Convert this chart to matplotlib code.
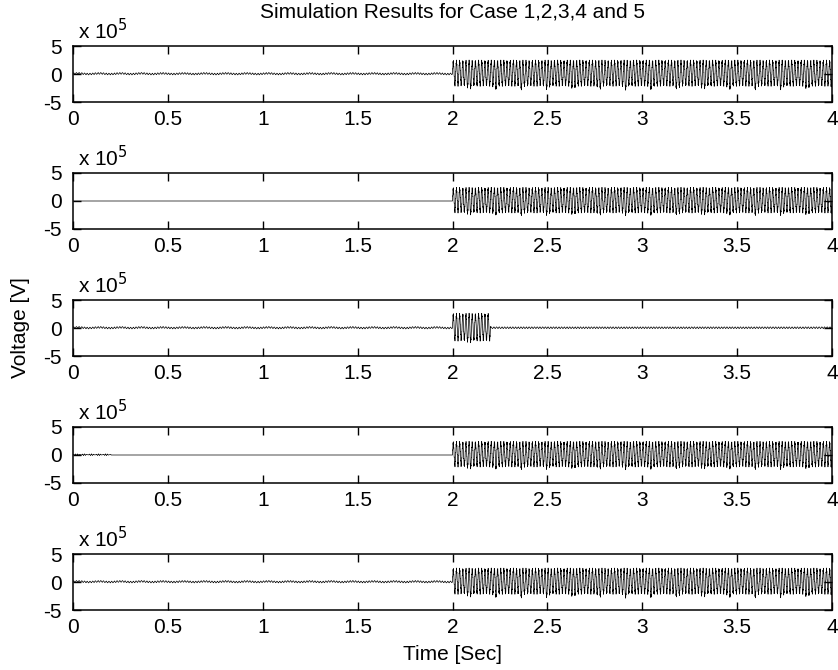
import numpy as np
import matplotlib
matplotlib.use("Agg")
import matplotlib.pyplot as plt

plt.rcParams['font.family'] = ['Liberation Sans', 'DejaVu Sans']

# ---- data (voltages in units of 1e5 V) ----
cases = [1, 2, 3, 4, 5]
fault_on = [2.0, 2.0, 2.0, 2.0, 2.0]        # s, start of large oscillation
fault_off = [4.0, 4.0, 2.2, 4.0, 4.0]       # s, end of large oscillation
pre_ripple = [0.15, 0.0, 0.15, 0.0, 0.15]   # pre-fault ripple amplitude
start_transient_end = [0.0, 0.0, 0.0, 0.2, 0.0]  # s, small start-up transient
post_amp = [2.05, 2.0, 2.2, 2.0, 2.05]      # main oscillation amplitude
post_hf = [0.3, 0.3, 0.3, 0.3, 0.3]         # high-frequency component amplitude
post_dip = [0.7, 0.5, 0.45, 0.5, 0.7]       # irregular dip component
carrier_hz = [60.0, 60.0, 60.0, 60.0, 60.0]
hf_hz = [437.0, 437.0, 437.0, 437.0, 437.0]
ripple_hz = [70.0, 70.0, 70.0, 70.0, 70.0]

xticks = [0, 0.5, 1, 1.5, 2, 2.5, 3, 3.5, 4]
xtick_labels = ['0', '0.5', '1', '1.5', '2', '2.5', '3', '3.5', '4']
yticks = [-5, 0, 5]
ytick_labels = ['-5', '0', '5']

title = 'Simulation Results for Case 1,2,3,4 and 5'
ylabel = 'Voltage [V]'
xlabel = 'Time [Sec]'

t = np.arange(0, 4.0 + 1e-9, 5e-5)

fig = plt.figure(figsize=(8.38, 6.70), dpi=100)
W, H = 838.0, 670.0
left, right = 73 / W, 832 / W
tops = [46, 173, 300, 427, 554]
ph = 56
FS = 15

for i, c in enumerate(cases):
    top = tops[i]
    ax = fig.add_axes([left, 1 - (top + ph) / H, right - left, ph / H])
    w = 2 * np.pi * carrier_hz[i]
    wh = 2 * np.pi * hf_hz[i]
    wr = 2 * np.pi * ripple_hz[i]
    # pre-fault ripple
    y = pre_ripple[i] * (np.sin(wr * t) + 0.4 * np.sin(2 * np.pi * 9 * t)) + 0.05 * (pre_ripple[i] > 0)
    # start-up transient (case 4)
    if start_transient_end[i] > 0:
        m = t < start_transient_end[i]
        y = np.where(m, 0.15 * np.sin(2 * np.pi * 95 * t) * np.sin(2 * np.pi * 13 * t) + 0.05, y)
    # large oscillation
    m = (t >= fault_on[i]) & (t <= fault_off[i])
    tt = t - fault_on[i]
    big = (post_amp[i] * np.sin(w * tt)
           + post_hf[i] * np.sin(wh * tt + 0.3)
           - post_dip[i] * np.maximum(0, np.sin(2 * np.pi * 7.3 * t)) ** 8 * (np.sin(w * tt) < 0)
           + 0.15)
    y = np.where(m, big, y)
    if fault_off[i] < 4.0:
        m2 = t > fault_off[i]
        y = np.where(m2, pre_ripple[i] * np.sin(wr * t) + 0.05, y)
    ax.plot(t, y, color='black', lw=0.5)
    ax.set_xlim(0, 4)
    ax.set_ylim(-5, 5)
    ax.set_xticks(xticks)
    ax.set_xticklabels(xtick_labels)
    ax.set_yticks(yticks)
    ax.set_yticklabels(ytick_labels)
    ax.tick_params(direction='in', length=6, width=1.0, top=True, right=True,
                   labelsize=FS, colors='black')
    ax.tick_params(axis='x', pad=6)
    ax.tick_params(axis='y', pad=8)
    for s in ax.spines.values():
        s.set_linewidth(1.1)
    ax.text(0.007, 1.05, r'x 10$^{5}$', transform=ax.transAxes, fontsize=FS,
            ha='left', va='bottom')

fig.text((left + right) / 2, 1 - 12 / H, title, ha='center', va='center', fontsize=FS)
fig.text(20 / W, 1 - 328 / H, ylabel, rotation=90, ha='center', va='center', fontsize=FS)
fig.text((left + right) / 2, 1 - 655 / H, xlabel, ha='center', va='center', fontsize=FS)

fig.savefig('out.png', dpi=100)
